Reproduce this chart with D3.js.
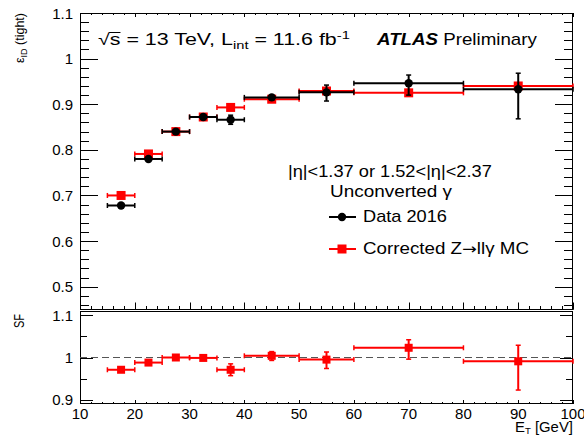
<!DOCTYPE html>
<html>
<head>
<meta charset="utf-8">
<script src="https://cdn.jsdelivr.net/npm/d3@7"></script>
<style>
  body { margin: 0; background: #fff; }
  text { font-family: "Liberation Sans", Arial, sans-serif; fill: #000; }
</style>
</head>
<body>
<svg id="chart" width="584" height="436"></svg>
<script>
// bins in E_T [GeV]
const binLo = [15, 20, 25, 30, 35, 40, 50, 60, 80]
const binHi = [20, 25, 30, 35, 40, 50, 60, 80, 100]

// Data 2016 efficiency (asymmetric errors)
const dataEff   = [0.678, 0.780, 0.840, 0.872, 0.866, 0.915, 0.926, 0.946, 0.933]
const dataErrLo = [0.003, 0.003, 0.003, 0.003, 0.010, 0.006, 0.019, 0.026, 0.065]
const dataErrHi = [0.003, 0.003, 0.003, 0.003, 0.010, 0.005, 0.016, 0.018, 0.035]

// Corrected Z->llgamma MC efficiency
const mcEff = [0.700, 0.791, 0.840, 0.872, 0.893, 0.911, 0.929, 0.925, 0.940]
const mcErr = [0.002, 0.002, 0.002, 0.002, 0.002, 0.002, 0.002, 0.002, 0.003]

// scale factors
const sfVal   = [0.971, 0.988, 1.000, 0.999, 0.971, 1.004, 0.995, 1.023, 0.991]
const sfErrLo = [0.004, 0.004, 0.003, 0.004, 0.014, 0.011, 0.021, 0.027, 0.068]
const sfErrHi = [0.004, 0.004, 0.003, 0.004, 0.014, 0.010, 0.018, 0.019, 0.038]

// axis ticks
const xTicks = [10, 20, 30, 40, 50, 60, 70, 80, 90, 100]
const yTopTicks = [0.5, 0.6, 0.7, 0.8, 0.9, 1, 1.1]
const yBotTicks = [0.9, 1, 1.1]

const svg = d3.select("#chart")
const left = 80, right = 573
const top1 = 13, bot1 = 309.5, top2 = 311, bot2 = 404

const x = d3.scaleLinear().domain([10, 100]).range([left, right])
const yTop = d3.scaleLinear().domain([0.45, 1.1]).range([bot1, top1])
const yBot = d3.scaleLinear().domain([0.89, 1.11]).range([bot2, top2])

const bins = binLo.map((lo, i) => ({
  lo, hi: binHi[i], mid: (lo + binHi[i]) / 2,
  d: dataEff[i], dLo: dataErrLo[i], dHi: dataErrHi[i],
  m: mcEff[i], mErr: mcErr[i],
  sf: sfVal[i], sLo: sfErrLo[i], sHi: sfErrHi[i]
}))

const minors = (a, b, step) => d3.range(Math.round((b - a) / step) + 1).map(k => +(a + k * step).toFixed(4))

// generic tick drawing helper
function ticks(g, vals, pos, len, orient) {
  g.selectAll(null).data(vals).enter().append("line")
    .attr("stroke", "#000").attr("stroke-width", 1)
    .each(function (v) {
      const s = d3.select(this), p = Math.round(pos.scale(v)) + 0.5
      if (orient === "left") s.attr("x1", left).attr("x2", left + len).attr("y1", p).attr("y2", p)
      if (orient === "right") s.attr("x1", right).attr("x2", right - len).attr("y1", p).attr("y2", p)
      if (orient === "bottom") s.attr("x1", p).attr("x2", p).attr("y1", pos.y).attr("y2", pos.y - len)
      if (orient === "top") s.attr("x1", p).attr("x2", p).attr("y1", pos.y).attr("y2", pos.y + len)
    })
}

const axes = svg.append("g")

// upper panel ticks
const yTopMinor = minors(0.46, 1.1, 0.02)
ticks(axes, yTopMinor, { scale: yTop }, 9, "left")
ticks(axes, yTopMinor, { scale: yTop }, 9, "right")
ticks(axes, yTopTicks, { scale: yTop }, 18, "left")
ticks(axes, yTopTicks, { scale: yTop }, 18, "right")
const xMinor = minors(10, 100, 2)
ticks(axes, xMinor, { scale: x, y: bot1 }, 3.5, "bottom")
ticks(axes, xTicks, { scale: x, y: bot1 }, 7, "bottom")
ticks(axes, xMinor, { scale: x, y: top1 }, 2, "top")
ticks(axes, xTicks, { scale: x, y: top1 }, 4, "top")

// lower panel ticks
const yBotMinor = [0.95, 1.05]
ticks(axes, yBotMinor, { scale: yBot }, 7, "left")
ticks(axes, yBotMinor, { scale: yBot }, 7, "right")
ticks(axes, yBotTicks, { scale: yBot }, 13, "left")
ticks(axes, yBotTicks, { scale: yBot }, 13, "right")
ticks(axes, xMinor, { scale: x, y: bot2 }, 2, "bottom")
ticks(axes, xTicks, { scale: x, y: bot2 }, 4, "bottom")

// frames
axes.append("rect").attr("x", left + 0.5).attr("y", top1 + 0.5)
  .attr("width", right - left - 1).attr("height", bot1 - top1 - 0.5)
  .attr("fill", "none").attr("stroke", "#000")
axes.append("rect").attr("x", left + 0.5).attr("y", top2 + 0.5)
  .attr("width", right - left - 1).attr("height", bot2 - top2 - 1)
  .attr("fill", "none").attr("stroke", "#000")

// tick labels
const fmt = v => String(v)
axes.selectAll(null).data(yTopTicks).enter().append("text")
  .attr("x", left - 7).attr("y", d => yTop(d) + 5.5)
  .attr("text-anchor", "end").attr("font-size", 15).text(fmt)
axes.selectAll(null).data(yBotTicks).enter().append("text")
  .attr("x", left - 7).attr("y", d => yBot(d) + 5.5)
  .attr("text-anchor", "end").attr("font-size", 15).text(fmt)
axes.selectAll(null).data(xTicks).enter().append("text")
  .attr("x", d => x(d)).attr("y", bot2 + 14.5)
  .attr("text-anchor", "middle").attr("font-size", 15).text(fmt)

// dashed unity line
svg.append("line").attr("x1", left).attr("x2", right)
  .attr("y1", yBot(1)).attr("y2", yBot(1))
  .attr("stroke", "#555").attr("stroke-width", 1.2).attr("stroke-dasharray", "7,4")

// error bars helper
function errBars(g, data, color, yS, yv, lo, hi) {
  const grp = g.append("g").attr("stroke", color).attr("stroke-width", 2)
  grp.selectAll(null).data(data).enter().append("line")
    .attr("x1", d => x(d.lo)).attr("x2", d => x(d.hi))
    .attr("y1", d => yS(yv(d))).attr("y2", d => yS(yv(d)))
  grp.selectAll(null).data(data).enter().append("line")
    .attr("x1", d => x(d.mid)).attr("x2", d => x(d.mid))
    .attr("y1", d => yS(yv(d) - lo(d))).attr("y2", d => yS(yv(d) + hi(d)))
  // small end marks
  const caps = grp.append("g").attr("stroke-width", 1.5)
  data.forEach(d => {
    [d.lo, d.hi].forEach(e => caps.append("line")
      .attr("x1", x(e)).attr("x2", x(e))
      .attr("y1", yS(yv(d)) - 2.5).attr("y2", yS(yv(d)) + 2.5))
    ;[yv(d) - lo(d), yv(d) + hi(d)].forEach(e => caps.append("line")
      .attr("x1", x(d.mid) - 2.5).attr("x2", x(d.mid) + 2.5)
      .attr("y1", yS(e)).attr("y2", yS(e)))
  })
}

const plot = svg.append("g")

// MC (drawn first), then data on top
errBars(plot, bins, "#ff0000", yTop, d => d.m, d => d.mErr, d => d.mErr)
plot.selectAll(null).data(bins).enter().append("rect")
  .attr("x", d => x(d.mid) - 4.5).attr("y", d => yTop(d.m) - 4.5)
  .attr("width", 9).attr("height", 9).attr("fill", "#ff0000")

errBars(plot, bins, "#000", yTop, d => d.d, d => d.dLo, d => d.dHi)
plot.selectAll(null).data(bins).enter().append("circle")
  .attr("cx", d => x(d.mid)).attr("cy", d => yTop(d.d))
  .attr("r", 4.2).attr("fill", "#000")

// scale factor panel
errBars(plot, bins, "#ff0000", yBot, d => d.sf, d => d.sLo, d => d.sHi)
plot.selectAll(null).data(bins).enter().append("rect")
  .attr("x", d => x(d.mid) - 4).attr("y", d => yBot(d.sf) - 4)
  .attr("width", 8).attr("height", 8).attr("fill", "#ff0000")

// text stretched horizontally to the width it has in the original (wide ROOT text)
function wideText(x0, y0, w, size, build) {
  const grp = svg.append("g")
  const t = grp.append("text").attr("font-size", size)
  build(t)
  const k = w / t.node().getComputedTextLength()
  grp.attr("transform", `translate(${x0},${y0}) scale(${k},1)`)
  return { grp, t, k }
}

const sq = wideText(98, 45, 252, 16, t => {
  t.append("tspan").text("√s = 13 TeV, L")
  t.append("tspan").attr("font-size", 11).attr("dy", 4).text("int")
  t.append("tspan").attr("dy", -4).text(" = 11.6 fb")
  t.append("tspan").attr("font-size", 11).attr("dy", -6).text("-1")
})
// overline of the square root
const sNode = sq.t.node()
sq.grp.append("line")
  .attr("x1", sNode.getStartPositionOfChar(1).x - 0.5).attr("x2", sNode.getEndPositionOfChar(1).x)
  .attr("y1", -12.5).attr("y2", -12.5).attr("stroke", "#000").attr("stroke-width", 1)

wideText(377, 45, 160, 16, t => {
  t.append("tspan").attr("font-weight", "bold").attr("font-style", "italic").text("ATLAS")
  t.append("tspan").text(" Preliminary")
})

wideText(288, 177, 204, 16, t => t.text("|η|<1.37 or 1.52<|η|<2.37"))
wideText(330, 197, 122, 16, t => t.text("Unconverted γ"))

// legend
const legend = svg.append("g")
legend.append("line").attr("x1", 329).attr("x2", 356).attr("y1", 217).attr("y2", 217)
  .attr("stroke", "#000").attr("stroke-width", 2)
legend.append("circle").attr("cx", 342).attr("cy", 217).attr("r", 4.2).attr("fill", "#000")
wideText(363, 222, 84, 16, t => t.text("Data 2016"))
legend.append("line").attr("x1", 329).attr("x2", 356).attr("y1", 249).attr("y2", 249)
  .attr("stroke", "#ff0000").attr("stroke-width", 2)
legend.append("rect").attr("x", 337.5).attr("y", 244.5).attr("width", 9).attr("height", 9).attr("fill", "#ff0000")
wideText(363, 254, 166, 16, t => {
  t.append("tspan").text("Corrected Z")
  t.append("tspan").attr("font-family", "DejaVu Sans").attr("font-size", 15).text("→")
  t.append("tspan").text("llγ MC")
})

// axis titles
const yt = svg.append("text").attr("transform", "translate(24,13) rotate(-90)")
  .attr("text-anchor", "end").attr("font-size", 12.5)
yt.append("tspan").text("ε")
yt.append("tspan").attr("font-size", 9).attr("dy", 3).text("ID")
yt.append("tspan").attr("dy", -3).text(" (tight)")

svg.append("text").attr("transform", "translate(24,314) scale(1.3,1) rotate(-90)")
  .attr("text-anchor", "end").attr("font-size", 11).text("SF")

wideText(515, 432, 58, 14, t => {
  t.append("tspan").text("E")
  t.append("tspan").attr("font-size", 9).attr("dy", 2).text("T")
  t.append("tspan").attr("dy", -2).text(" [GeV]")
})
</script>
</body>
</html>
